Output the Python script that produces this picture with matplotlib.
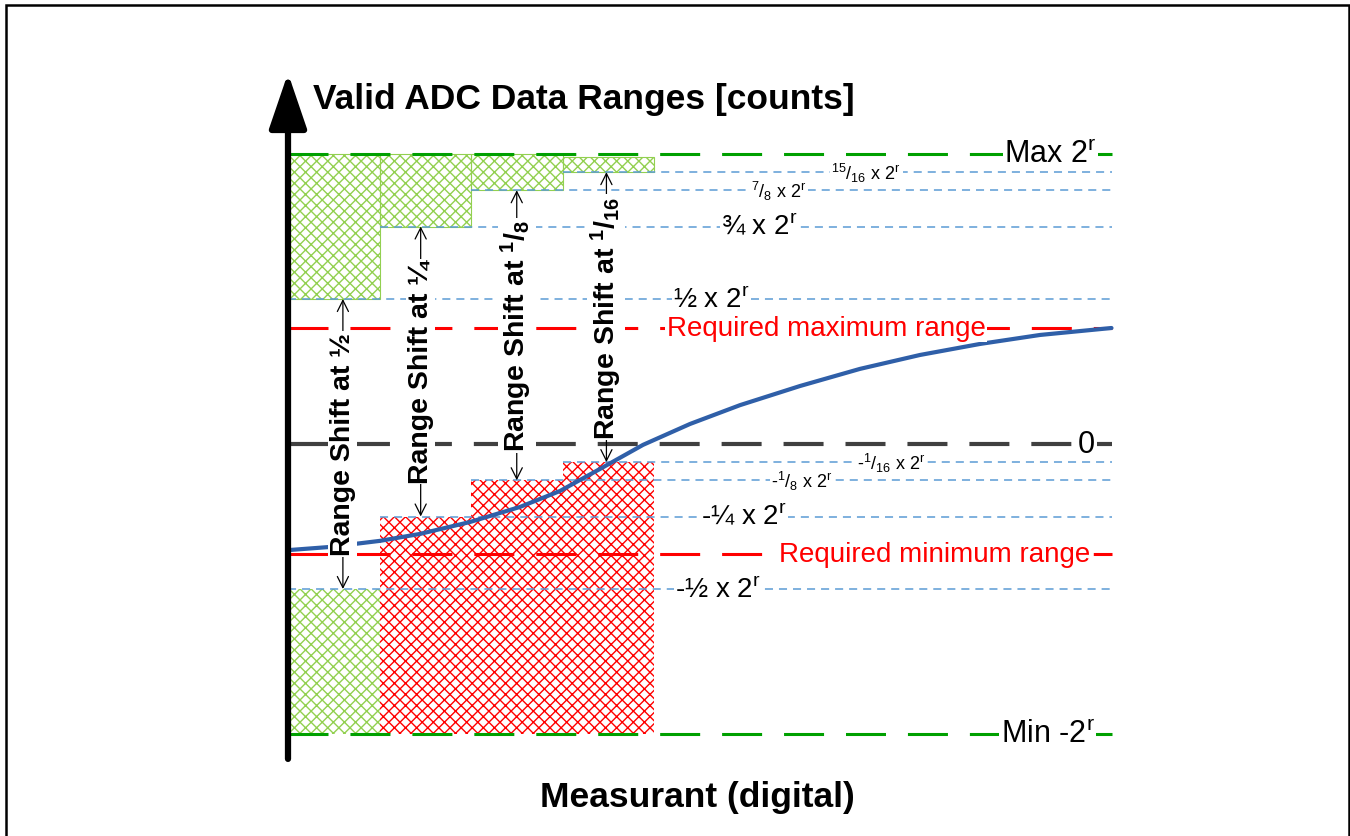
import matplotlib
matplotlib.use("Agg")
import matplotlib.pyplot as plt
from matplotlib.patches import Rectangle

plt.rcParams['font.family'] = ['Liberation Sans', 'DejaVu Sans']
plt.rcParams['mathtext.fontset'] = 'custom'
plt.rcParams['mathtext.rm'] = 'Liberation Sans'
plt.rcParams['mathtext.it'] = 'Liberation Sans:italic'
plt.rcParams['mathtext.bf'] = 'Liberation Sans:bold'
plt.rcParams['lines.scale_dashes'] = False
plt.rcParams['hatch.linewidth'] = 1.0

# levels in units of 2^r
full_max = 1.0
full_min = -1.0
req_max = 0.40
req_min = -0.38

# four range shift steps (columns along the measurand axis)
columns = [0, 1, 2, 3]
upper_top = [1.0, 1.0, 1.0, 0.99]
upper_bottom = [0.5, 0.75, 0.875, 0.9375]
lower_top = [-0.5, -0.25, -0.125, -0.0625]
lower_colors = ['#92D050', '#FF0000', '#FF0000', '#FF0000']
shift_names = ['½', '¼', r'$\mathbf{^1/_8}$', r'$\mathbf{^1/_{16}}$']

# reference level labels
ref_levels = [0.9375, 0.875, 0.75, 0.5, -0.0625, -0.125, -0.25, -0.5]
ref_labels = [r'$\mathrm{^{15}/_{16}}$ x $\mathrm{2^r}$',
              r'$\mathrm{^{7}/_{8}}$ x $\mathrm{2^r}$',
              r'¾ x $\mathrm{2^r}$',
              r'½ x $\mathrm{2^r}$',
              r'-$\mathrm{^{1}/_{16}}$ x $\mathrm{2^r}$',
              r'-$\mathrm{^{1}/_{8}}$ x $\mathrm{2^r}$',
              r'-¼ x $\mathrm{2^r}$',
              r'-½ x $\mathrm{2^r}$']
ref_sizes = [13, 13, 20, 20, 13, 13, 20, 20]
ref_starts = [3, 2, 1, 0, 3, 2, 1, 0]

# measurand transfer curve
curve_x = [0.0, 0.459, 1.005, 1.443, 1.989, 2.536, 2.973, 3.410, 3.880, 4.393,
           4.940, 5.596, 6.251, 6.907, 7.563, 8.219, 9.0]
curve_y = [-0.366, -0.355, -0.334, -0.310, -0.269, -0.217, -0.162, -0.086, -0.003,
           0.069, 0.134, 0.200, 0.259, 0.307, 0.345, 0.376, 0.400]

x_end = 9.0

fig = plt.figure(figsize=(13.5, 8.37), dpi=100)
ax = fig.add_axes([0, 0, 1, 1])
ax.set_xlim(-288 / 91.5, (1350 - 288) / 91.5)
ax.set_ylim((445 - 837) / 290, 445 / 290)
ax.axis('off')

# hatched valid ranges
ax.bar(columns, [t - b for t, b in zip(upper_top, upper_bottom)], bottom=upper_bottom,
       width=1, align='edge', fill=False, hatch='xxx', edgecolor='#92D050',
       linewidth=0.8, zorder=1)
ax.bar(columns, [t - full_min for t in lower_top], bottom=full_min,
       width=1, align='edge', fill=False, hatch='xxx', edgecolor=lower_colors,
       linewidth=0, zorder=1)

# reference lines
blue_dash = (0, (5.8, 4.3))
long_dash = (0, (28.8, 15.8))
for lev, start in zip(ref_levels, ref_starts):
    ax.plot([start, x_end], [lev, lev], color='#5B9BD5', lw=1.1, ls=blue_dash, zorder=2)

ax.plot([0, x_end], [full_max, full_max], color='#00A000', lw=2.2, ls=long_dash, zorder=3)
ax.plot([0, x_end], [full_min, full_min], color='#00A000', lw=2.2, ls=long_dash, zorder=3)
ax.plot([0, x_end], [0, 0], color='#404040', lw=3, ls=long_dash, zorder=3)
ax.plot([0, x_end], [req_max, req_max], color='#FF0000', lw=2.2, ls=long_dash, zorder=3)
ax.plot([0, x_end], [req_min, req_min], color='#FF0000', lw=2.2, ls=long_dash, zorder=3)

# transfer curve
ax.plot(curve_x, curve_y, color='#2F5FA8', lw=3, solid_capstyle='round',
        solid_joinstyle='round', zorder=4)

# y axis arrow
ax.annotate('', xy=(0, 1.279), xytext=(0, -1.086),
            arrowprops=dict(arrowstyle='-|>,head_length=1.7,head_width=0.58', lw=4.5,
                            color='black', shrinkA=0, shrinkB=0, mutation_scale=20,
                            capstyle='round'), zorder=6)

wb = dict(facecolor='white', edgecolor='none', pad=1)

# range shift arrows
arrow_x = [0.6, 1.45, 2.5, 3.48]
for ax_x, top, bot, name in zip(arrow_x, upper_bottom, lower_top, shift_names):
    ax.annotate('', xy=(ax_x, top), xytext=(ax_x, bot),
                arrowprops=dict(arrowstyle='<->', lw=0.9, color='black',
                                shrinkA=0, shrinkB=0, mutation_scale=20), zorder=5)
    ax.text(ax_x, (top + bot) / 2, 'Range Shift at ' + name, rotation=90,
            ha='center', va='center', fontsize=20.5, fontweight='bold',
            bbox=wb, zorder=6)

# level labels
label_x = [6.32, 5.36, 5.15, 4.63, 6.59, 5.62, 4.98, 4.70]
for lx, lev, lab, fs in zip(label_x, ref_levels, ref_labels, ref_sizes):
    ax.text(lx, lev, lab, ha='center', va='center', fontsize=fs, bbox=wb, zorder=6)

ax.text(8.33, full_max, r'Max $\mathrm{2^r}$', ha='center', va='center', fontsize=22,
        bbox=wb, zorder=6)
ax.text(8.30, full_min, r'Min -$\mathrm{2^r}$', ha='center', va='center', fontsize=22,
        bbox=wb, zorder=6)
ax.text(8.73, 0, '0', ha='center', va='center', fontsize=22, bbox=wb, zorder=6)
ax.text(5.88, req_max, 'Required maximum range', ha='center', va='center',
        fontsize=20, color='#FF0000', bbox=wb, zorder=6)
ax.text(7.07, req_min, 'Required minimum range', ha='center', va='center',
        fontsize=20, color='#FF0000', bbox=wb, zorder=6)

ax.text(0.273, 1.19, 'Valid ADC Data Ranges [counts]', ha='left', va='center',
        fontsize=25.5, fontweight='bold')
ax.text(4.47, -1.214, 'Measurant (digital)', ha='center', va='center',
        fontsize=25.5, fontweight='bold')

fig.patches.append(Rectangle((6 / 1350, -0.01), 1343 / 1350, 1 - 6 / 837 + 0.01,
                             transform=fig.transFigure, fill=False, lw=1.8,
                             edgecolor='black'))

fig.savefig('out.png', dpi=100)
